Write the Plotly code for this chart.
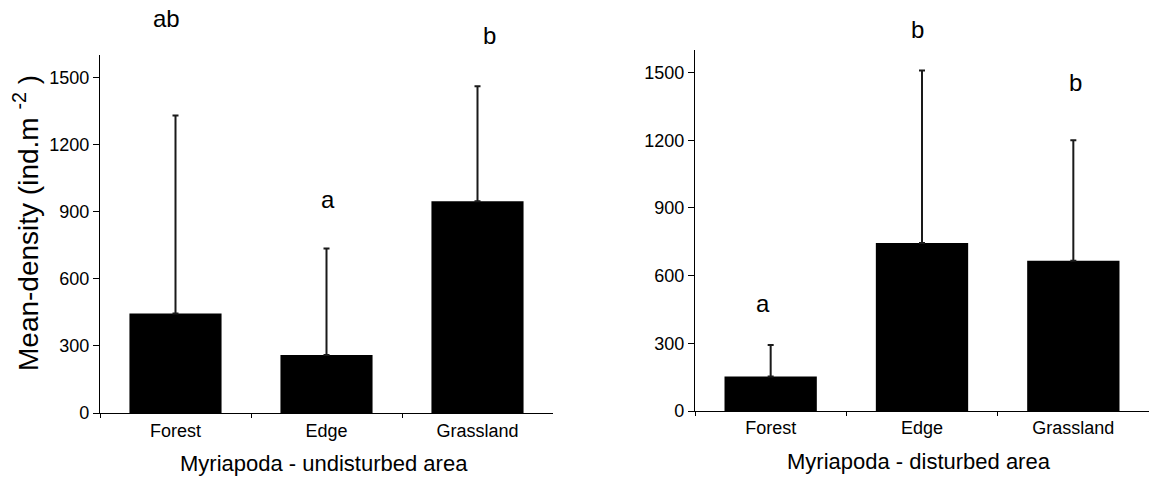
import plotly.graph_objects as go

# ---------------- data ----------------
categories = ["Forest", "Edge", "Grassland"]

undisturbed_mean = [445, 259, 946]
undisturbed_upper = [1330, 735, 1460]          # top of error bar
undisturbed_letters = ["ab", "a", "b"]
undisturbed_letter_y = [1762, 955, 1688]

disturbed_mean = [153, 745, 666]
disturbed_upper = [292, 1509, 1200]
disturbed_letters = ["a", "b", "b"]
disturbed_letter_y = [478, 1690, 1455]

y_ticks = [0, 300, 600, 900, 1200, 1500]
y_max = 1600

# ---------------- style ----------------
W, H = 1149, 479
FONT = "Liberation Sans, Arial, sans-serif"
left_letter_shift = [-9, 1, 12]
right_letter_shift = [-8, -4, 2]

fig = go.Figure()

def add_panel(means, upper, xa, ya):
    fig.add_trace(go.Bar(
        x=categories, y=means, xaxis=xa, yaxis=ya,
        width=0.61,
        marker=dict(color="black", line=dict(width=0)),
        error_y=dict(type="data", symmetric=False,
                     array=[u - m for u, m in zip(upper, means)],
                     arrayminus=[0] * len(means),
                     color="#1a1a1a", thickness=2, width=3),
        showlegend=False,
    ))

add_panel(undisturbed_mean, undisturbed_upper, "x", "y")
add_panel(disturbed_mean, disturbed_upper, "x2", "y2")

def axis_style():
    return dict(showline=True, linecolor="black", linewidth=1.2,
                showgrid=False, zeroline=False, ticks="outside",
                tickcolor="black", tickwidth=1.2, automargin=False,
                tickfont=dict(family=FONT, size=18, color="black"))

fig.update_layout(
    width=W, height=H,
    margin=dict(l=0, r=0, t=0, b=0),
    paper_bgcolor="white", plot_bgcolor="white",
    font=dict(family=FONT, color="black"),
    xaxis=dict(domain=[100 / W, 553 / W], type="category", range=[-0.5, 2.5],
               tickson="boundaries", ticklen=4, anchor="y", ticklabelstandoff=1,
               **axis_style()),
    yaxis=dict(domain=[(H - 413) / H, (H - 55) / H], range=[0, y_max],
               tickvals=y_ticks, ticktext=[str(v) for v in y_ticks],
               ticklen=6, anchor="x", **axis_style()),
    xaxis2=dict(domain=[695 / W, 1.0], type="category", range=[-0.5, 2.5],
                tickson="boundaries", ticklen=4, anchor="y2",
                **axis_style()),
    yaxis2=dict(domain=[(H - 411) / H, (H - 50) / H], range=[0, y_max],
                tickvals=y_ticks, ticktext=[str(v) for v in y_ticks],
                ticklen=6, anchor="x2", **axis_style()),
)

# x-axis titles
fig.add_annotation(text="Myriapoda - undisturbed area",
                   xref="paper", yref="paper", x=324 / W, y=(H - 463) / H,
                   xanchor="center", yanchor="middle", showarrow=False,
                   font=dict(family=FONT, size=22, color="black"))
fig.add_annotation(text="Myriapoda - disturbed area",
                   xref="paper", yref="paper", x=919 / W, y=(H - 461) / H,
                   xanchor="center", yanchor="middle", showarrow=False,
                   font=dict(family=FONT, size=22, color="black"))

# significance letters
for cat, lab, ly, sh in zip(categories, undisturbed_letters, undisturbed_letter_y, left_letter_shift):
    fig.add_annotation(x=cat, y=ly / y_max, xref="x", yref="y domain", text=lab,
                       showarrow=False, xshift=sh, yanchor="middle",
                       font=dict(family=FONT, size=24, color="black"))
for cat, lab, ly, sh in zip(categories, disturbed_letters, disturbed_letter_y, right_letter_shift):
    fig.add_annotation(x=cat, y=ly / y_max, xref="x2", yref="y2 domain", text=lab,
                       showarrow=False, xshift=sh, yanchor="middle",
                       font=dict(family=FONT, size=24, color="black"))

# y-axis title of the left panel
fig.add_annotation(text="Mean-density (ind.m <sup>-2</sup> )",
                   xref="paper", yref="paper", x=26 / W, y=(H - 223) / H,
                   xanchor="center", yanchor="middle",
                   textangle=-90, showarrow=False,
                   font=dict(family=FONT, size=28, color="black"))

fig.write_html("out.html")
